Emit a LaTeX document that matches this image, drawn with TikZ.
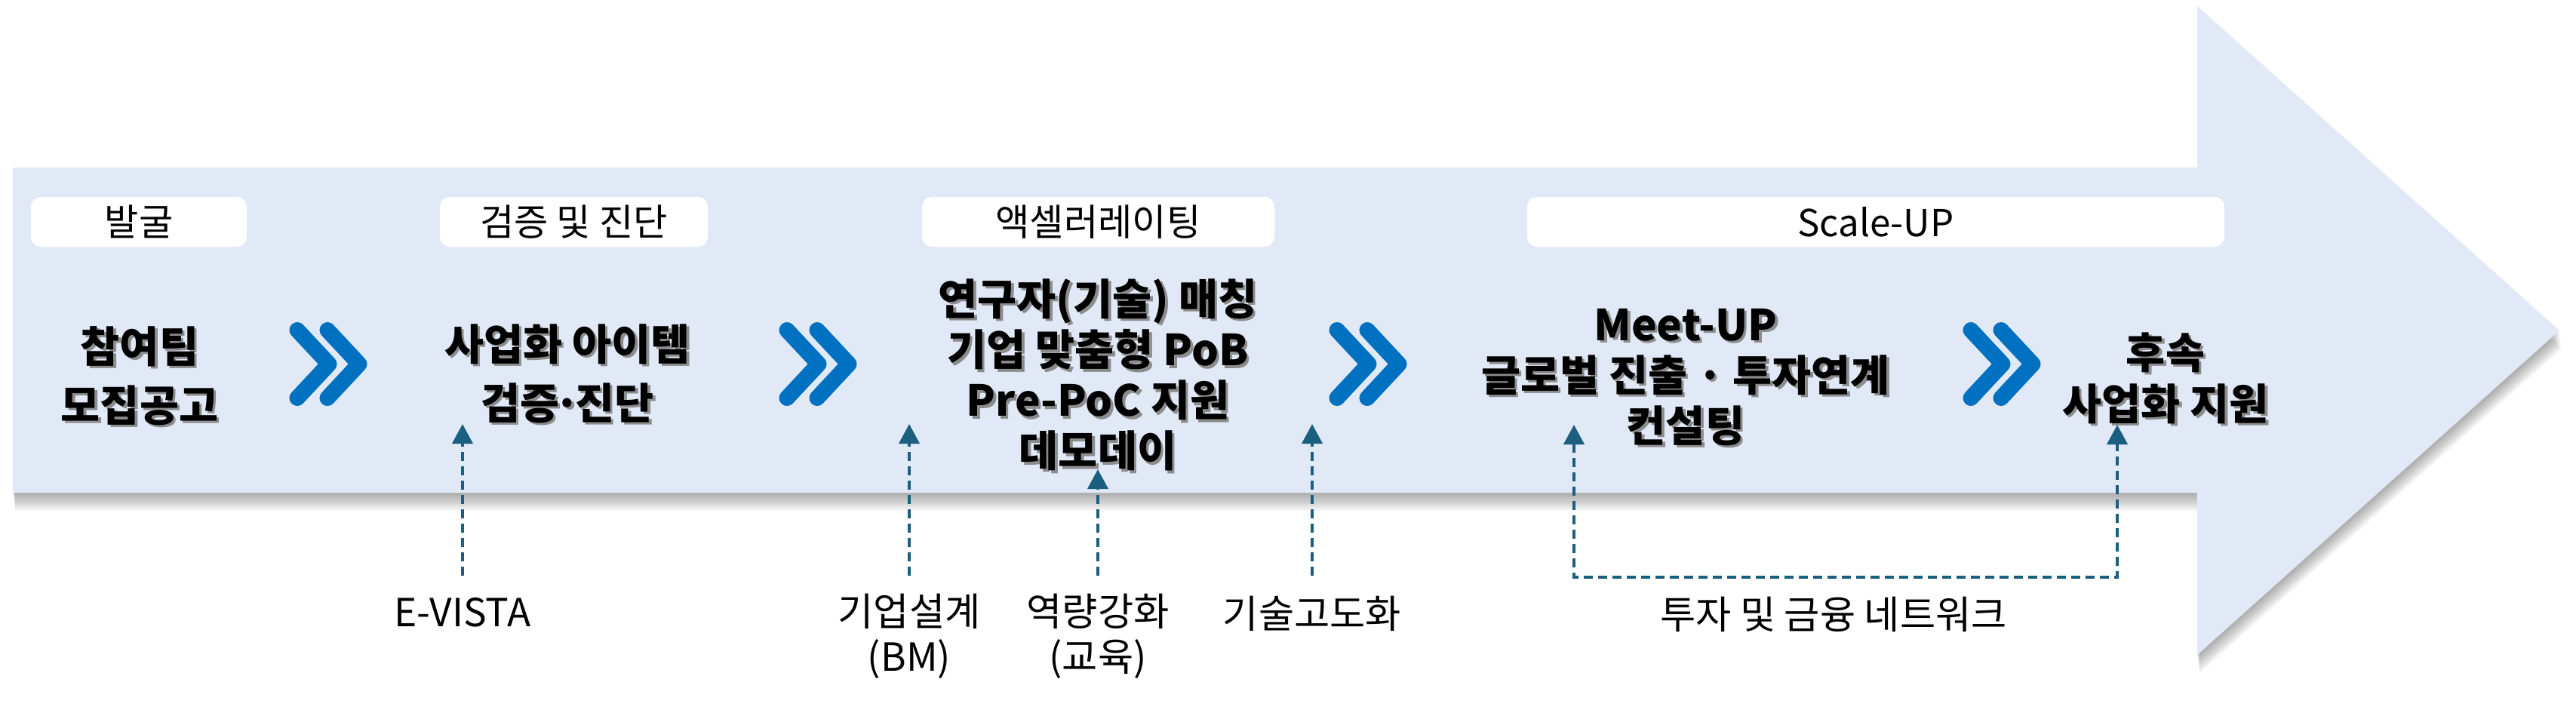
\documentclass[tikz,border=0pt]{standalone}
\usepackage{fontspec}
\setmainfont{Noto Sans CJK KR}
\usetikzlibrary{arrows.meta}
\definecolor{bodyblue}{RGB}{225,233,247}
\definecolor{chevblue}{RGB}{0,112,192}
\definecolor{linkblue}{RGB}{26,94,128}
\tikzset{
  bigarrow/.pic={\path[pic actions] (0.17,7.18) -- (29.12,7.18) -- (29.12,9.32) -- (33.92,5.02)
     -- (29.12,0.72) -- (29.12,2.87) -- (0.17,2.87) -- cycle;},
  chevron/.pic={\draw[chevblue,line width=0.21cm,line cap=round,line join=round]
     (-0.41,0.45) -- (0.01,0) -- (-0.41,-0.45) (-0.01,0.45) -- (0.41,0) -- (-0.01,-0.45);},
  phase/.style={fill=white, rounded corners=0.13cm, minimum width=#1, minimum height=0.66cm,
     inner sep=0pt, font=\fontsize{14}{16}\selectfont},
  stage/.style={align=center, inner sep=0pt, font=\bfseries\fontsize{16.1}{#1}\selectfont},
  stage/.default=22.2pt,
  tag/.style={align=center, inner sep=0pt, font=\fontsize{14.6}{17.1}\selectfont},
  link/.style={draw=linkblue, line width=1.1pt, dash pattern=on 0.12cm off 0.07cm,
     >={Triangle[length=0.26cm,width=0.27cm]}, ->}
}
% bold stage text with a soft grey shadow behind it
\newcommand{\stagenode}[4][22.2pt]{%
  \node[stage=#1, text=black!45, xshift=0.035cm, yshift=-0.035cm] at (#3) {#4};
  \node[stage=#1] (#2) at (#3) {#4};}
\newcommand{\middot}{\kern-.12em·\kern-.12em}

\begin{document}
\begin{tikzpicture}
  \path[use as bounding box, fill=white] (0,0) rectangle (34.14,9.40);

  % big arrow with its shadow
  \foreach \k in {1,...,8}
    \pic[fill=black, fill opacity=0.045] at (0.004*\k,-0.03*\k) {bigarrow};
  \pic[fill=bodyblue] {bigarrow};

  % phases
  \node[phase=2.86cm] (p1) at (1.84,6.46) {발굴};
  \node[phase=3.55cm] (p2) at (7.605,6.46) {검증 및 진단};
  \node[phase=4.67cm] (p3) at (14.555,6.46) {액셀러레이팅};
  \node[phase=9.24cm] (p4) at (24.86,6.46) {Scale-UP};

  % stages
  \stagenode{s1}{1.85,4.42}{참여팀\\모집공고}
  \stagenode{s2}{7.52,4.45}{사업화 아이템\\검증\middot 진단}
  \stagenode[19.1pt]{s3}{14.55,4.43}{연구자(기술) 매칭\\기업 맞춤형 PoB\\Pre-PoC 지원\\데모데이}
  \stagenode[19.1pt]{s4}{22.34,4.40}{Meet-UP\\글로벌 진출 · 투자연계\\컨설팅}
  \stagenode[19.4pt]{s5}{28.70,4.39}{후속\\사업화 지원}

  \foreach \x in {4.35,10.84,18.13,26.53}
    \pic at (\x,4.575) {chevron};

  % support programmes
  \node[tag] (ev) at (6.13,1.28) {E-VISTA};
  \node[tag] (bm) at (12.05,0.97) {기업설계\\(BM)};
  \node[tag] (edu) at (14.55,0.97) {역량강화\\(교육)};
  \node[tag] (tech) at (17.39,1.27) {기술고도화};
  \node[tag] (net) at (24.30,1.26) {투자 및 금융 네트워크};

  \coordinate (base) at (0,1.77);
  \coordinate (tipline) at (0,3.78);
  \coordinate (demo) at (0,3.18);
  \coordinate (netline) at (0,1.75);
  \coordinate (meet) at (20.86,3.77);
  \coordinate (follow) at (28.06,3.77);

  \draw[link] (ev |- base) -- (ev |- tipline);
  \draw[link] (bm |- base) -- (bm |- tipline);
  \draw[link] (edu |- base) -- (edu |- demo);
  \draw[link] (tech |- base) -- (tech |- tipline);
  \draw[link,<->] (meet) -- (meet |- netline) -- (follow |- netline) -- (follow);
\end{tikzpicture}
\end{document}
